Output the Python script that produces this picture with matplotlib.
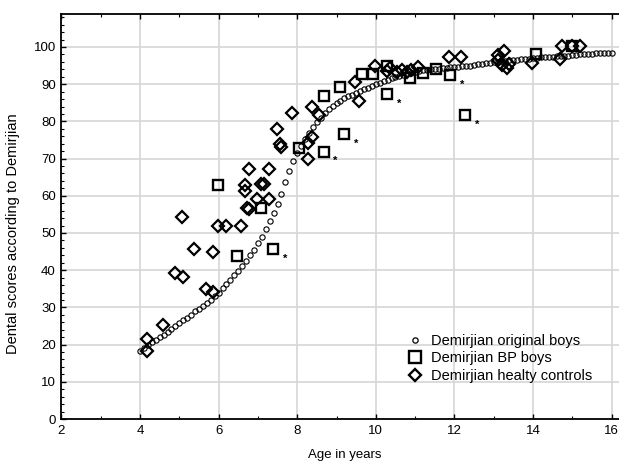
import numpy as np
import matplotlib.pyplot as plt
from matplotlib.ticker import MultipleLocator
from matplotlib.lines import Line2D

plt.rcParams['font.family'] = ['Liberation Sans', 'DejaVu Sans']

# Demirjian original boys (reference curve, one value per 0.1 year from 4.0 to 16.0)
orig_age = np.round(np.arange(40, 161) / 10.0, 1)
orig_score = [
    18.4, 19.2, 19.9, 20.6, 21.3, 22.0, 22.7, 23.4, 24.2, 25.0,   # 4.0 - 4.9
    25.8, 26.6, 27.2, 28.0, 28.9, 29.7, 30.4, 31.2, 32.1, 33.0,   # 5.0 - 5.9
    34.0, 35.2, 36.4, 37.5, 38.6, 39.7, 41.0, 42.6, 44.0, 45.5,   # 6.0 - 6.9
    47.3, 49.0, 51.0, 53.3, 55.4, 57.8, 60.6, 63.7, 66.8, 69.4,   # 7.0 - 7.9
    71.4, 73.3, 75.2, 77.0, 78.4, 79.8, 81.0, 82.2, 83.2, 84.1,   # 8.0 - 8.9
    84.9, 85.6, 86.2, 86.7, 87.2, 87.7, 88.2, 88.6, 89.0, 89.5,   # 9.0 - 9.9
    90.0, 90.4, 90.8, 91.2, 91.6, 92.0, 92.3, 92.6, 92.9, 93.1,   # 10.0 - 10.9
    93.4, 93.5, 93.7, 93.9, 94.0, 94.1, 94.2, 94.3, 94.4, 94.5,   # 11.0 - 11.9
    94.6, 94.7, 94.8, 94.9, 95.0, 95.2, 95.3, 95.5, 95.6, 95.7,   # 12.0 - 12.9
    95.9, 96.0, 96.1, 96.3, 96.4, 96.5, 96.6, 96.7, 96.8, 96.9,   # 13.0 - 13.9
    97.0, 97.1, 97.2, 97.2, 97.3, 97.4, 97.5, 97.5, 97.6, 97.7,   # 14.0 - 14.9
    97.8, 97.9, 98.0, 98.0, 98.1, 98.2, 98.3, 98.3, 98.4, 98.5,   # 15.0 - 15.9
    98.5,                                                         # 16.0
]

# Demirjian BP boys
bp_age = [5.99, 6.47, 7.08, 7.39, 8.05, 8.67, 8.67, 9.08, 9.19, 9.65,
          9.92, 10.29, 10.29, 10.87, 11.21, 11.53, 11.89, 12.28, 14.08, 15.0]
bp_score = [62.9, 43.7, 56.6, 45.6, 72.9, 71.9, 86.8, 89.2, 76.5, 92.8,
            92.8, 94.8, 87.3, 91.6, 93.0, 94.2, 92.5, 81.6, 98.2, 100.2]
bp_star = [0, 0, 0, 1, 0, 1, 0, 0, 1, 0,
           0, 0, 1, 0, 0, 0, 1, 1, 0, 0]

# Demirjian healthy controls
hc_age = [4.17, 4.19, 4.59, 4.89, 5.09, 5.08, 5.37, 5.67, 5.87, 5.87,
          5.99, 6.18, 6.57, 6.67, 6.67, 6.71, 6.78, 6.78, 6.97, 7.08,
          7.16, 7.27, 7.27, 7.48, 7.56, 7.58, 7.88, 8.28, 8.28, 8.38,
          8.38, 8.56, 9.48, 9.58, 9.98, 10.28, 10.36, 10.53, 10.66, 10.79,
          10.89, 11.08, 11.87, 12.16, 13.10, 13.12, 13.27, 13.20, 13.33, 13.40,
          13.97, 14.68, 14.75, 14.98, 15.20]
hc_score = [21.5, 18.3, 25.3, 39.2, 38.3, 54.2, 45.7, 34.9, 34.2, 45.0,
            52.0, 52.0, 52.0, 63.0, 61.2, 56.6, 56.4, 67.1, 59.1, 63.1,
            63.3, 67.1, 59.1, 77.9, 73.9, 73.2, 82.3, 74.3, 69.8, 75.9,
            83.8, 81.7, 90.6, 85.5, 95.0, 93.6, 94.3, 93.3, 93.8, 93.3,
            93.8, 94.7, 97.3, 97.3, 96.5, 97.8, 98.9, 95.2, 94.3, 95.5,
            95.8, 96.7, 100.2, 100.2, 100.2]

fig = plt.figure(figsize=(6.19, 4.63), dpi=100)
ax = fig.add_axes([61.4 / 619, 1 - 419 / 463, (619 - 61.4) / 619, (419 - 14) / 463])

ax.plot(orig_age, orig_score, 'o', ms=3.8, mfc='none', mec='black', mew=0.8,
        zorder=3)
ax.plot(bp_age, bp_score, 's', ms=7.8, mfc='none', mec='black', mew=1.7,
        zorder=4)
ax.plot(hc_age, hc_score, 'D', ms=6.5, mfc='none', mec='black', mew=1.6,
        zorder=4)

for xa, ya, st in zip(bp_age, bp_score, bp_star):
    if st:
        ax.annotate('*', (xa, ya), xytext=(8.5, -7), textcoords='offset points',
                    ha='center', va='center', fontsize=8, fontweight='bold')

ax.set_xlim(2, 2 + (619 - 61.4) / 39.3)
ax.set_ylim(0, (419 - 14) / 3.72)
ax.xaxis.set_major_locator(MultipleLocator(2))
ax.xaxis.set_minor_locator(MultipleLocator(1))
ax.yaxis.set_major_locator(MultipleLocator(10))
ax.yaxis.set_minor_locator(MultipleLocator(2))
ax.set_yticks(np.arange(0, 101, 10))

ax.grid(True, which='major', color='#d6d6d6', lw=1.2, zorder=0)
ax.set_axisbelow(True)
ax.spines['right'].set_visible(False)
for s in ['left', 'bottom', 'top']:
    ax.spines[s].set_linewidth(1.3)

ax.tick_params(which='both', direction='in', top=True, right=False,
               labelsize=9.5, pad=4)
ax.tick_params(which='major', length=3.5, width=1)
ax.tick_params(which='minor', length=2, width=0.8)

ax.set_xlabel('Age in years', fontsize=9.5)
ax.set_ylabel('Dental scores according to Demirjian', fontsize=10.5)
ax.xaxis.set_label_coords(0.508, -0.075)
ax.yaxis.set_label_coords(-0.075, 0.457)

handles = [
    Line2D([], [], ls='none', marker='o', ms=3.8, mfc='none', mec='black', mew=0.9),
    Line2D([], [], ls='none', marker='s', ms=8, mfc='none', mec='black', mew=1.7),
    Line2D([], [], ls='none', marker='D', ms=6, mfc='none', mec='black', mew=1.7),
]
labels = ['Demirjian original boys', 'Demirjian BP boys', 'Demirjian healty controls']
ax.legend(handles, labels, loc='upper left', bbox_to_anchor=(0.61, 0.225),
          frameon=False, fontsize=10.5, handlelength=1.0, handletextpad=0.6,
          labelspacing=0.25, borderaxespad=0)

fig.savefig('out.png', dpi=100)
